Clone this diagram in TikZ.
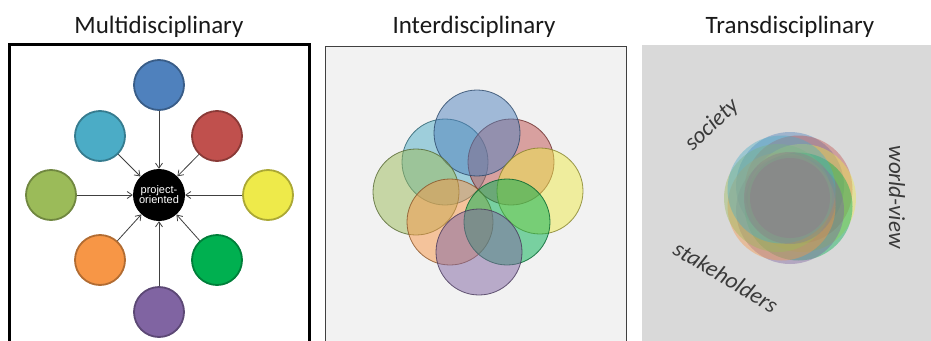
\documentclass[tikz,border=0pt]{standalone}
\usepackage{fontspec}
\setmainfont{Carlito}
\newfontfamily\arialf{Liberation Sans}
\usetikzlibrary{arrows.meta}
\definecolor{cblue}{HTML}{4F81BD}
\definecolor{cred}{HTML}{C0504D}
\definecolor{ccyan}{HTML}{4BACC6}
\definecolor{colive}{HTML}{9BBB59}
\definecolor{cyellow}{HTML}{EEEA4A}
\definecolor{corange}{HTML}{F79646}
\definecolor{cgreen}{HTML}{00B050}
\definecolor{cpurple}{HTML}{8064A2}
\definecolor{paneltwo}{HTML}{F2F2F2}
\definecolor{panelthree}{HTML}{D9D9D9}
\definecolor{coregray}{HTML}{898989}
\definecolor{hand}{HTML}{3A3A3A}
\begin{document}
\begin{tikzpicture}[x=1pt,y=-1pt,
  ttl/.style={anchor=base, font=\fontsize{25}{29}\selectfont, text=black!90},
  disc/.style={circle, minimum size=50pt, inner sep=0pt, line width=1.8pt, fill=#1, draw=#1!72!black},
  hub/.style={circle, minimum size=52pt, inner sep=0pt, fill=black, text=white, align=center,
    font=\arialf\fontsize{11}{13}\selectfont},
  arr/.style={draw=black!75, line width=0.8pt, -{Straight Barb[length=5pt,width=7pt]}},
  idisc/.style={circle, minimum size=86pt, inner sep=0pt, fill=#1, fill opacity=0.5,
    draw=#1!55!black, draw opacity=0.8, line width=0.8pt},
  tdisc/.style={circle, minimum size=108pt, inner sep=0pt, fill=#1, fill opacity=0.42},
  handw/.style={font=\itshape\fontsize{23}{25}\selectfont, text=hand}
]
\useasboundingbox (0,0) rectangle (931,340);
\clip (0,0) rectangle (931,340);
\fill[white] (0,0) rectangle (931,340);

% titles
\node[ttl] (t1) at (159,33) {Multidisciplinary};
\node[ttl] (t2) at (474,33) {Interdisciplinary};
\node[ttl] (t3) at (790,33) {Transdisciplinary};

% panel 1
\draw[line width=3pt] (9.5,44.5) rectangle (309.5,360);
\node[hub] (hub) at (159,195) {project-\\[-3pt]oriented};
\node[disc=cblue]   (m1) at (159,85)  {};
\node[disc=cred]    (m2) at (217,136) {};
\node[disc=cyellow] (m3) at (268,195) {};
\node[disc=cgreen]  (m4) at (217,260) {};
\node[disc=cpurple] (m5) at (159,312) {};
\node[disc=corange] (m6) at (100,260) {};
\node[disc=colive]  (m7) at (51,195)  {};
\node[disc=ccyan]   (m8) at (100,136) {};
\foreach \i in {1,...,8} \draw[arr] (m\i) -- (hub);

% panel 2
\draw[fill=paneltwo, draw=black!75, line width=1pt] (325,46) rectangle (626,360);
\node[idisc=ccyan]   (i8) at (445,162) {};
\node[idisc=cred]    (i2) at (511,162) {};
\node[idisc=cblue]   (i1) at (477,133) {};
\node[idisc=colive]  (i7) at (416,192) {};
\node[idisc=cyellow] (i3) at (540,191) {};
\node[idisc=corange] (i6) at (450,222) {};
\node[idisc=cgreen]  (i4) at (507,222) {};
\node[idisc=cpurple] (i5) at (479,252) {};

% panel 3
\fill[panelthree] (642,45) rectangle (940,360);
\node[tdisc=cblue]   (d1) at (790,186) {};
\node[tdisc=cred]    (d2) at (798.5,189.5) {};
\node[tdisc=cyellow] (d3) at (802,198) {};
\node[tdisc=cgreen]  (d4) at (798.5,206.5) {};
\node[tdisc=cpurple] (d5) at (790,210) {};
\node[tdisc=corange] (d6) at (781.5,206.5) {};
\node[tdisc=colive]  (d7) at (778,198) {};
\node[tdisc=ccyan]   (d8) at (781.5,189.5) {};
\fill[coregray, fill opacity=0.55] (790,198) circle (46);
\fill[coregray, fill opacity=0.85] (790,198) circle (40);

\node[handw, rotate=43]  (soc) at (712,125) {society};
\node[handw, rotate=-90] (wv)  at (897,197) {world-view};
\node[handw, rotate=-31] (stk) at (726,277) {stakeholders};
\end{tikzpicture}
\end{document}
